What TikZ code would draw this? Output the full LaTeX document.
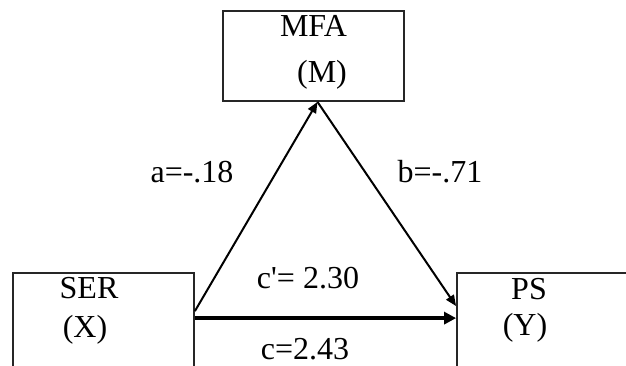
\documentclass[tikz,border=0pt]{standalone}
\usepackage{fontspec}
\setmainfont{Liberation Serif}
\usetikzlibrary{arrows.meta,calc}
\begin{document}
\begin{tikzpicture}[x=1pt,y=-1pt,
  box/.style={draw=black!85,line width=1.8pt,inner sep=0pt},
  txt/.style={font=\fontsize{32}{36}\selectfont,inner sep=0pt,anchor=base},
  thin/.style={line width=2pt,-{Triangle[length=11pt,width=9pt]}},
  thick/.style={line width=3.5pt,-{Triangle[length=12pt,width=12pt]}}]
\useasboundingbox (0,0) rectangle (626,365);
\clip (0,0) rectangle (626,365);
\fill[white] (0,0) rectangle (626,365);
\node[box,minimum width=181pt,minimum height=90pt] (M) at (313.5,56) {};
\node[box,minimum width=181pt,minimum height=110pt] (X) at (103.5,328) {};
\node[box,minimum width=190pt,minimum height=110pt] (Y) at (552,328) {};
\node[txt] (mt) at (313.5,36) {MFA};
\node[txt] (ml) at (322,82) {(M)};
\node[txt] (xt) at (89,298) {SER};
\node[txt] (xl) at (85,337) {(X)};
\node[txt] (yt) at (529,299) {PS};
\node[txt] (yl) at (525,335) {(Y)};
\node[txt] (la) at (192,182) {a=-.18};
\node[txt] (lb) at (440,182) {b=-.71};
\node[txt] (lc1) at (308,288) {c\textquotesingle= 2.30};
\node[txt] (lc) at (305,359) {c=2.43};
\coordinate (xa) at ($(X.north east)+(0,39)$);
\coordinate (xc) at ($(X.north east)+(0,46)$);
\coordinate (ma) at ($(M.south)+(4,0)$);
\coordinate (yb) at ($(Y.north west)+(0,34)$);
\coordinate (yc) at ($(Y.north west)+(0,46)$);
\draw[thin] (xa) -- (ma);
\draw[thin] (ma) -- (yb);
\draw[thick] (xc) -- (yc);
\end{tikzpicture}
\end{document}
